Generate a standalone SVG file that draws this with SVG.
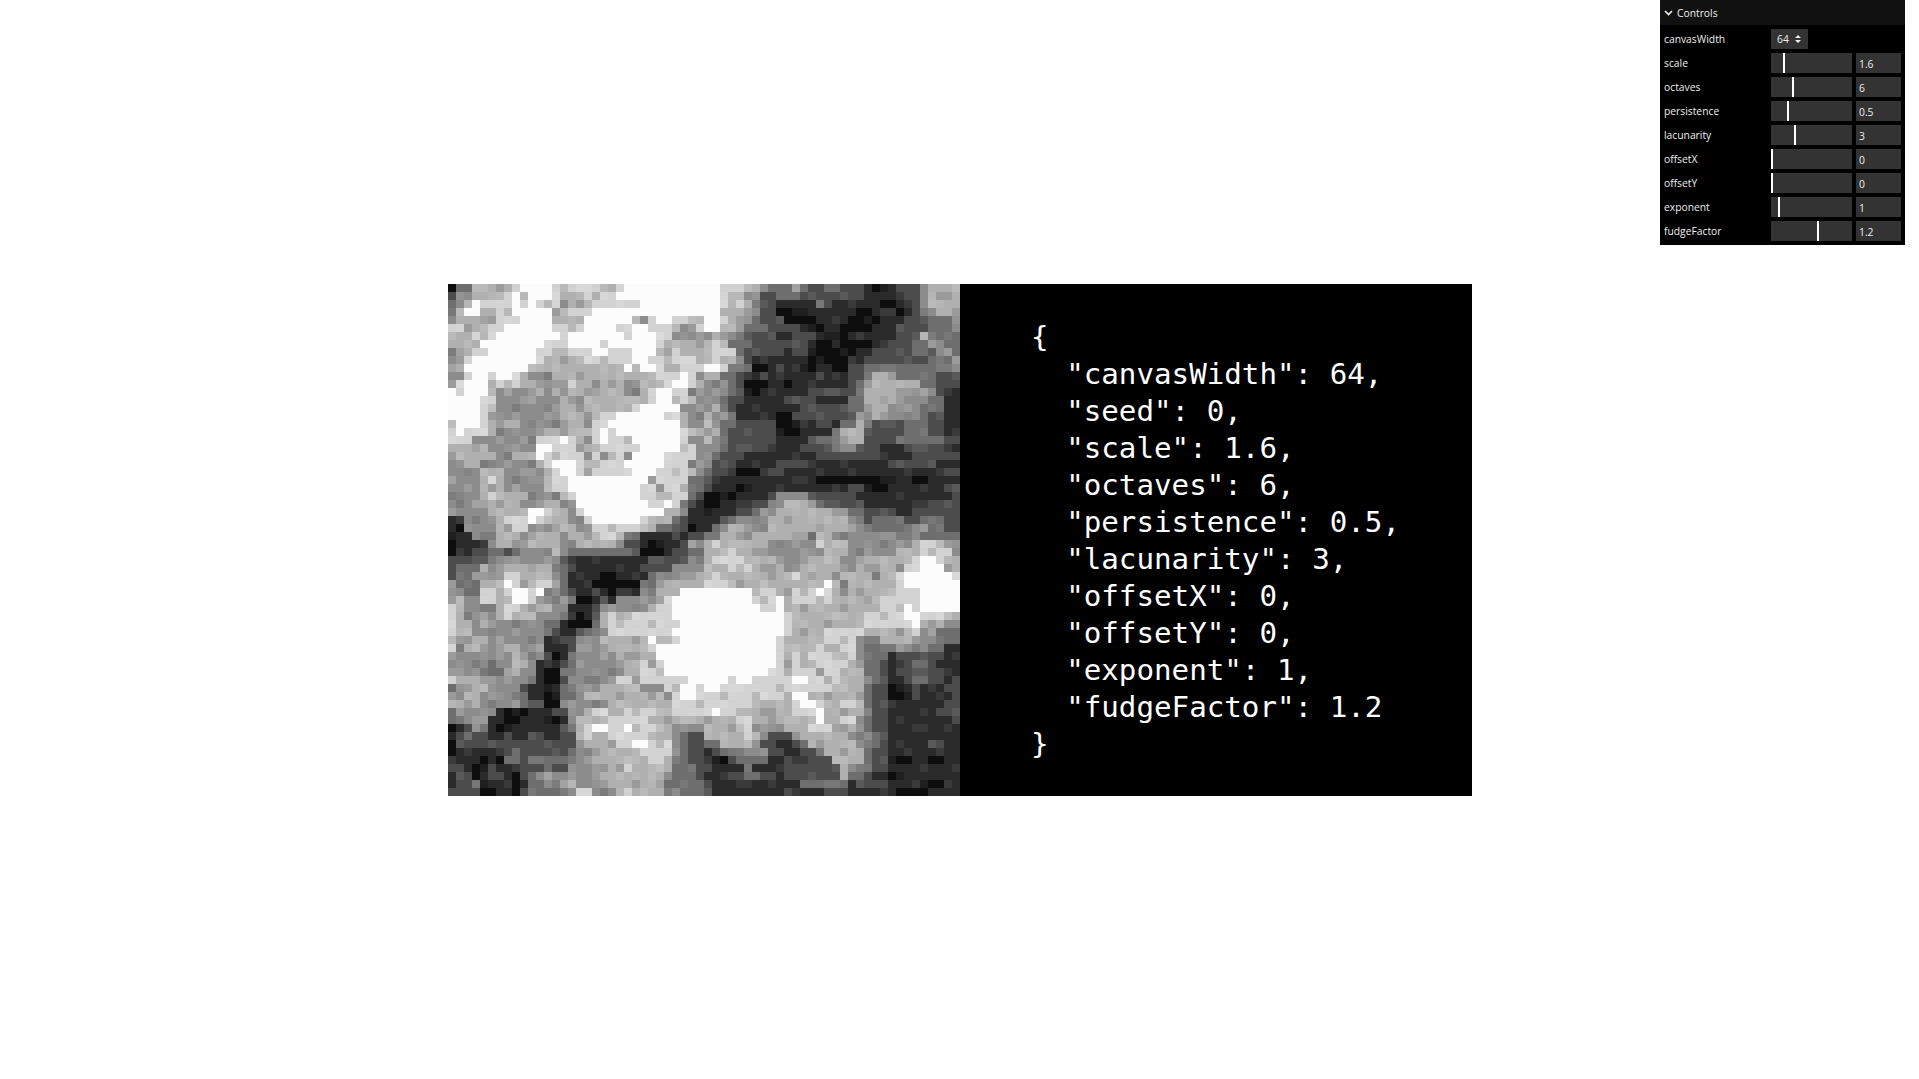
<svg xmlns="http://www.w3.org/2000/svg" width="1919" height="1079" viewBox="0 0 1919 1079">
<defs>
<pattern id="grain" patternUnits="userSpaceOnUse" x="0" y="-.5" width="13" height="9" shape-rendering="crispEdges">
<path fill="#000" fill-opacity=".12" d="M1 0h1v1h-1zM6 0h1v1h-1zM9 1h2v1h-2zM3 2h1v1h-1zM12 2h1v1h-1zM0 3h1v1h-1zM7 3h1v1h-1zM4 4h2v1h-2zM10 4h1v1h-1zM2 5h1v1h-1zM8 6h1v1h-1zM12 6h1v1h-1zM5 7h1v1h-1zM0 8h2v1h-2zM10 8h1v1h-1z"/>
<path fill="#fff" fill-opacity=".13" d="M3 0h2v1h-2zM11 0h1v1h-1zM0 1h1v1h-1zM6 1h1v1h-1zM8 2h1v1h-1zM1 3h1v1h-1zM11 3h1v1h-1zM7 4h1v1h-1zM4 5h1v1h-1zM9 5h2v1h-2zM0 6h1v1h-1zM5 6h1v1h-1zM2 7h1v1h-1zM8 7h1v1h-1zM12 7h1v1h-1zM6 8h1v1h-1z"/>
</pattern>
<pattern id="grain2" patternUnits="userSpaceOnUse" x="2" y="1.500" width="11" height="7" shape-rendering="crispEdges">
<path fill="#fff" fill-opacity=".07" d="M0 0h1v1h-1zM4 0h1v1h-1zM8 1h2v1h-2zM2 2h1v1h-1zM6 2h1v1h-1zM10 3h1v1h-1zM1 4h2v1h-2zM5 4h1v1h-1zM8 5h1v1h-1zM3 6h1v1h-1zM10 6h1v1h-1z"/>
</pattern>
</defs>
<style>
.p{fill:none;stroke-width:1;shape-rendering:crispEdges}
.json{font-family:"DejaVu Sans Mono","Liberation Mono",monospace;font-size:29.2px;fill:#fff;white-space:pre}
.l{font-family:"Open Sans","Noto Sans",sans-serif;font-size:10.3px;fill:#eee}
.v{font-family:"Open Sans","Noto Sans",sans-serif;font-size:10.3px;fill:#eee}
.b{fill:#333}
.h{fill:#fff}
</style>
<rect width="1919" height="1079" fill="#fff"/>
<g id="noise-canvas" transform="translate(448 288) scale(8)">
<rect x="0" y="-.5" width="64" height="64" fill="#8c8c8c" shape-rendering="crispEdges"/>
<path class="p" stroke="#b0b0b0" d="M3 0H8M20 0H21M36 0H39M60 0H64M3 1H7M14 1H19M60 1H64M2 2H3M15 2H18M35 2H38M60 2H64M1 3H2M4 3H6M13 3H15M34 3H37M61 3H63M1 4H6M13 4H17M32 4H37M2 5H5M32 5H36M0 6H6M33 6H35M59 6H60M0 7H4M26 7H37M1 8H5M27 8H36M62 8H63M1 9H3M12 9H17M26 9H36M1 10H2M10 10H22M27 10H35M53 10H56M59 10H60M2 11H3M9 11H10M13 11H29M32 11H34M53 11H57M0 12H1M5 12H11M13 12H14M15 12H18M19 12H22M24 12H32M52 12H59M10 13H12M13 13H14M15 13H22M24 13H29M31 13H32M51 13H58M5 14H6M14 14H16M17 14H25M28 14H31M52 14H56M4 15H6M14 15H16M17 15H23M28 15H29M33 15H34M53 15H55M4 16H6M14 16H17M29 16H30M32 16H33M53 16H54M4 17H6M7 17H9M14 17H17M29 17H30M32 17H33M50 17H52M0 18H1M5 18H6M12 18H18M29 18H34M49 18H52M0 19H3M9 19H10M12 19H17M32 19H33M49 19H52M0 20H5M11 20H31M0 21H6M8 21H11M2 22H4M11 22H12M31 22H32M4 23H7M12 23H13M29 23H31M4 24H7M12 24H13M24 24H29M4 25H7M12 25H14M29 25H31M4 26H10M5 27H9M12 27H14M29 27H30M42 27H46M5 28H10M12 28H15M27 28H29M41 28H50M6 29H9M13 29H15M25 29H28M40 29H50M59 29H60M6 30H8M13 30H16M24 30H26M35 30H37M40 30H50M59 30H60M6 31H9M10 31H14M15 31H22M34 31H37M38 31H48M60 31H61M6 32H8M10 32H14M16 32H21M32 32H40M47 32H50M58 32H62M13 33H14M32 33H39M47 33H50M56 33H63M32 34H41M44 34H49M52 34H64M3 35H5M7 35H13M32 35H42M44 35H50M51 35H56M57 35H64M6 36H13M31 36H48M49 36H53M54 36H64M4 37H13M27 37H47M48 37H49M50 37H64M4 38H12M26 38H49M50 38H64M0 39H2M4 39H11M26 39H64M0 40H2M6 40H13M25 40H64M0 41H2M6 41H11M19 41H64M0 42H3M4 42H5M19 42H62M0 43H3M20 43H56M0 44H2M3 44H5M19 44H50M54 44H58M0 45H1M2 45H4M6 45H9M19 45H51M8 46H10M21 46H51M8 47H10M16 47H17M22 47H52M0 48H1M7 48H9M22 48H52M0 49H6M21 49H52M2 50H5M19 50H24M27 50H52M2 51H4M17 51H27M28 51H52M0 52H2M3 52H4M20 52H52M1 53H2M17 53H31M32 53H52M16 54H51M16 55H28M32 55H37M42 55H51M16 56H28M32 56H38M44 56H50M17 57H28M34 57H38M45 57H51M18 58H28M46 58H52M18 59H28M47 59H52M20 60H28M49 60H50M18 61H27M47 61H50M14 62H16M20 62H28M16 63H18M21 63H27"/>
<path class="p" stroke="#d2d2d2" d="M8 0H20M21 0H37M7 1H14M17 1H18M19 1H37M3 2H14M18 2H35M36 2H37M2 3H4M6 3H13M15 3H34M6 4H13M17 4H24M25 4H35M0 5H2M5 5H29M31 5H34M3 6H4M5 6H28M4 7H27M33 7H34M3 8H27M28 8H29M33 8H36M2 9H12M17 9H31M32 9H34M2 10H11M22 10H27M29 10H35M2 11H9M25 11H31M1 12H5M6 12H9M15 12H16M26 12H31M0 13H6M25 13H30M0 14H6M25 14H30M0 15H5M21 15H22M23 15H29M0 16H5M18 16H29M0 17H5M18 17H29M0 18H5M18 18H30M0 19H3M11 19H16M18 19H30M11 20H16M19 20H31M11 21H17M18 21H19M20 21H22M23 21H31M12 22H30M13 23H17M18 23H30M5 24H6M12 24H25M26 24H30M13 25H26M27 25H29M5 26H6M14 26H30M16 27H29M9 28H13M16 28H27M7 29H13M17 29H26M8 30H10M18 30H24M18 31H21M33 32H34M46 32H47M59 32H61M34 33H36M47 33H48M59 33H63M33 34H37M57 34H62M35 35H38M57 35H62M7 36H9M32 36H34M43 36H44M56 36H64M7 37H9M10 37H13M32 37H36M47 37H49M56 37H64M4 38H6M7 38H12M32 38H41M43 38H44M45 38H48M55 38H64M4 39H6M7 39H11M27 39H41M43 39H48M54 39H64M0 40H1M7 40H9M26 40H42M43 40H44M54 40H64M0 41H1M7 41H8M20 41H21M23 41H43M52 41H62M0 42H1M20 42H43M51 42H59M0 43H1M20 43H43M47 43H52M57 43H59M0 44H1M25 44H42M47 44H51M0 45H1M25 45H42M45 45H47M49 45H51M26 46H42M43 46H44M45 46H51M24 47H25M26 47H42M43 47H44M46 47H50M24 48H42M43 48H46M47 48H49M0 49H1M21 49H23M24 49H47M48 49H50M27 50H48M28 51H42M28 52H38M43 52H47M49 52H51M18 53H20M22 53H37M43 53H47M19 54H25M36 54H38M45 54H47M49 54H51M17 55H26M36 55H38M45 55H48M16 56H18M20 56H26M37 56H39M21 57H28M23 58H28M25 59H27M22 60H23M25 60H26M16 63H18M22 63H23"/>
<rect x="0" y="-.5" width="64" height="64" fill="url(#grain)" shape-rendering="crispEdges"/>
<path class="p" stroke="#fcfcfc" d="M9 0H13M22 0H34M8 1H9M10 1H13M21 1H34M3 2H4M8 2H9M10 2H11M24 2H34M2 3H4M8 3H13M18 3H34M9 4H13M17 4H23M26 4H28M32 4H34M7 5H13M17 5H21M23 5H25M32 5H34M6 6H14M15 6H22M23 6H26M4 7H12M15 7H19M20 7H26M5 8H11M18 8H20M23 8H26M3 9H11M23 9H25M2 10H10M22 10H23M24 10H26M32 10H34M3 11H5M6 11H8M29 11H30M2 12H5M28 12H30M0 13H1M2 13H5M26 13H28M0 14H4M26 14H28M0 15H4M24 15H29M0 16H4M21 16H27M1 17H4M20 17H29M1 18H2M19 18H20M21 18H29M14 19H15M19 19H20M23 19H29M11 20H13M24 20H29M11 21H12M23 21H27M13 22H16M22 22H27M14 23H16M23 23H26M15 24H25M15 25H24M16 26H24M16 27H25M27 27H28M10 28H12M17 28H27M10 29H11M18 29H24M59 34H61M59 35H62M57 36H63M7 37H8M47 37H48M57 37H64M8 38H10M11 38H12M29 38H38M46 38H47M59 38H64M8 39H10M28 39H38M41 39H42M59 39H64M28 40H39M41 40H42M57 40H58M59 40H64M28 41H42M57 41H59M29 42H42M58 42H59M28 43H42M25 44H26M29 44H41M26 45H41M26 46H41M27 47H41M27 48H40M32 49H35M36 49H38M43 49H45M30 49H32M29 50H31M32 50H34M29 51H31M43 51H45M44 52H46M33 53H34M46 53H47M46 54H47M18 55H20M22 55H23M23 57H25"/>
<path class="p" stroke="#6e6e6e" d="M0 0H3M40 0H43M44 0H45M46 0H59M0 1H1M39 1H59M0 2H1M39 2H59M0 3H1M39 3H59M38 4H63M37 5H63M36 6H59M61 6H64M35 7H60M62 7H64M36 8H61M63 8H64M37 9H63M37 10H61M34 11H53M56 11H64M35 12H52M59 12H64M35 13H52M61 13H64M34 14H52M60 14H64M34 15H52M59 15H64M35 16H50M59 16H64M34 17H51M53 17H64M34 18H49M52 18H64M34 19H48M52 19H64M34 20H49M52 20H64M33 21H64M33 22H64M32 23H64M30 24H64M30 25H64M30 26H41M45 26H64M29 27H40M46 27H64M30 28H39M50 28H64M28 29H36M52 29H64M26 30H34M53 30H58M60 30H64M22 31H34M45 31H46M59 31H64M0 32H5M22 32H30M0 33H9M15 33H32M0 34H4M14 34H30M0 35H4M14 35H28M0 36H3M14 36H26M1 37H4M14 37H26M2 38H4M14 38H24M15 39H19M15 40H19M14 41H19M12 42H19M12 43H18M12 44H16M12 45H16M12 46H16M61 43H64M5 47H6M11 47H16M4 48H7M11 48H16M10 49H15M0 50H1M9 50H15M9 51H16M9 52H14M0 53H1M7 53H15M0 54H2M5 54H15M0 55H3M4 55H16M0 56H15M0 57H16M0 58H16M0 59H15M0 60H15M0 61H11M0 62H12M0 63H14M29 56H32M29 57H32M29 58H32M29 59H32M28 60H32M28 61H32M27 62H32M29 63H32M61 44H64M52 45H56M60 45H64M52 46H60M61 46H64M52 47H64M52 48H64M53 49H64M52 50H64M52 51H64M52 52H64M53 53H64M52 54H64M52 55H64M40 56H43M53 56H64M32 57H34M40 57H45M53 57H64M32 58H36M40 58H47M52 58H64M32 59H47M52 59H64M32 60H48M52 60H64M32 61H48M50 61H64M32 62H64M32 63H64"/>
<path class="p" stroke="#4c4c4c" d="M0 0H1M45 0H47M49 0H59M0 1H1M39 1H41M44 1H59M39 2H42M43 2H45M47 2H59M39 3H59M39 4H60M40 5H60M37 6H59M38 7H58M37 8H58M60 8H61M37 9H60M38 10H52M36 11H52M61 11H64M36 12H51M61 12H64M36 13H51M61 13H64M35 14H50M62 14H64M35 15H50M62 15H64M36 16H51M60 16H64M36 17H48M53 17H57M60 17H64M35 18H46M52 18H57M60 18H64M35 19H46M52 19H56M62 19H64M35 20H48M51 20H64M34 21H64M33 22H64M33 23H64M32 24H64M32 25H64M31 26H41M45 26H64M30 27H40M47 27H64M30 28H38M52 28H64M29 29H35M52 29H53M57 29H59M62 29H64M28 30H33M62 30H64M0 31H3M24 31H32M0 32H5M22 32H30M0 33H5M7 33H8M23 33H30M0 34H5M14 34H30M0 35H1M15 35H28M0 36H1M15 36H25M15 37H24M15 38H24M16 39H20M15 40H19M15 41H19M14 42H18M13 43H17M12 44H16M12 45H16M12 46H15M11 47H15M11 48H14M11 49H15M9 50H14M10 51H14M10 52H14M8 53H15M5 54H15M0 55H3M5 55H15M0 56H2M3 56H5M6 56H16M0 57H16M0 58H8M9 58H15M0 59H7M9 59H10M0 60H12M13 60H15M0 61H10M0 62H3M4 62H10M0 63H10M30 56H32M30 57H32M30 58H32M30 59H32M31 60H32M31 61H32M62 45H64M55 46H64M54 47H58M60 47H64M54 48H64M54 49H58M60 49H64M53 50H64M53 51H64M53 52H64M53 53H64M53 54H64M53 55H64M40 56H43M54 56H64M39 57H44M54 57H64M32 58H34M40 58H46M53 58H64M32 59H36M40 59H48M53 59H64M32 60H37M38 60H49M53 60H64M32 61H37M39 61H49M52 61H64M32 62H44M50 62H64M32 63H64"/>
<path class="p" stroke="#2b2b2b" d="M0 0H1M52 0H56M52 1H57M41 2H46M48 2H58M41 3H58M42 4H57M44 5H56M41 6H43M46 6H56M45 7H55M42 8H43M45 8H53M38 9H52M38 10H41M42 10H50M37 11H39M40 11H46M47 11H50M37 12H50M37 13H45M62 13H64M37 14H42M46 14H50M62 14H64M36 15H44M62 15H64M36 16H42M62 16H64M41 17H46M48 17H49M62 17H64M41 18H48M62 18H64M41 19H45M40 20H44M54 20H57M62 20H64M37 21H46M54 21H58M36 22H41M45 22H55M61 22H64M35 23H40M42 23H62M33 24H64M33 25H50M53 25H62M32 26H40M51 26H63M31 27H38M52 27H60M30 28H36M56 28H58M0 29H2M30 29H34M0 30H2M30 30H33M0 31H3M24 31H28M29 31H30M0 32H5M24 32H29M0 33H3M24 33H28M15 34H25M16 35H24M15 36H25M15 37H24M16 38H18M19 38H24M16 39H19M20 39H21M15 40H18M15 41H18M14 42H17M14 43H16M12 44H14M12 45H15M13 46H15M11 47H14M11 48H14M11 49H14M10 50H14M10 51H14M12 52H14M6 53H13M5 54H15M0 55H2M5 55H14M0 56H1M5 56H7M8 56H10M12 56H14M0 57H1M0 58H7M0 59H7M2 60H5M6 60H9M0 61H1M3 61H5M7 61H9M0 62H1M4 62H10M4 63H9M62 45H64M55 46H56M62 46H64M55 47H57M61 47H64M55 48H56M62 48H64M55 49H57M62 49H63M55 50H58M59 50H62M55 51H58M59 51H63M55 52H62M55 53H61M55 54H63M55 55H64M55 56H64M41 57H43M55 57H60M62 57H64M32 58H33M42 58H44M55 58H64M32 59H35M40 59H42M43 59H45M55 59H64M33 60H37M38 60H42M55 60H64M32 61H35M41 61H42M53 61H64M33 62H44M50 62H51M55 62H64M33 63H42M43 63H47M50 63H64"/>
<path class="p" stroke="#0e0e0e" d="M0 0H1M53 0H55M54 2H56M41 3H45M51 3H53M56 3H57M42 4H46M50 4H54M45 5H47M49 5H53M47 6H50M46 7H48M49 7H53M45 8H51M45 9H50M38 10H40M44 10H46M48 10H50M37 12H40M42 12H43M37 13H39M41 16H43M41 17H44M41 18H44M36 23H39M46 24H56M58 24H60M36 25H38M52 25H55M32 26H36M32 27H34M32 28H33M1 30H2M30 30H31M0 31H1M0 32H1M25 32H27M0 33H1M24 33H27M19 36H21M18 37H24M20 38H21M16 39H18M16 41H17M15 42H18M13 46H14M12 48H14M12 49H14M12 50H13M12 51H14M12 52H14M7 53H10M7 54H9M12 54H14M0 55H1M6 55H8M0 57H1M0 58H1M4 59H5M6 59H7M3 60H5M3 61H4M8 61H9M4 62H5M8 62H9M4 63H6M8 63H9M55 50H57M55 51H58M55 59H58M60 59H62M55 61H57M59 62H62M33 59H35M56 63H60"/>
<rect x="0" y="-.5" width="64" height="64" fill="url(#grain2)" shape-rendering="crispEdges"/>
</g>
<g id="json-panel">
<rect x="960" y="284" width="512" height="512" fill="#000"/>
<text class="json" x="1031" y="347">{</text>
<text class="json" x="1031" y="384">  "canvasWidth": 64,</text>
<text class="json" x="1031" y="421">  "seed": 0,</text>
<text class="json" x="1031" y="458">  "scale": 1.6,</text>
<text class="json" x="1031" y="495">  "octaves": 6,</text>
<text class="json" x="1031" y="532">  "persistence": 0.5,</text>
<text class="json" x="1031" y="569">  "lacunarity": 3,</text>
<text class="json" x="1031" y="606">  "offsetX": 0,</text>
<text class="json" x="1031" y="643">  "offsetY": 0,</text>
<text class="json" x="1031" y="680">  "exponent": 1,</text>
<text class="json" x="1031" y="717">  "fudgeFactor": 1.2</text>
<text class="json" x="1031" y="754">}</text>
</g>
<g id="controls">
<rect x="1660" y="0" width="245" height="245" fill="#000"/>
<rect x="1660" y="0" width="245" height="25" fill="#111"/>
<path d="M1665 11l3.500 3.500 3.500-3.500" fill="none" stroke="#eee" stroke-width="1.600"/>
<text class="l" x="1677" y="17">Controls</text>
<text class="l" x="1664" y="43">canvasWidth</text>
<rect class="b" x="1771" y="29" width="37" height="20"/>
<text class="v" x="1777" y="43">64</text>
<path d="M1795 38h6l-3-3zM1795 40h6l-3 3z" fill="#eee"/>
<text class="l" x="1664" y="67">scale</text>
<rect class="b" x="1771" y="53" width="81" height="20"/><rect class="b" x="1856" y="53" width="45" height="20"/>
<rect class="h" x="1783" y="53" width="2" height="20"/><text class="v" x="1859" y="68">1.6</text>
<text class="l" x="1664" y="91">octaves</text>
<rect class="b" x="1771" y="77" width="81" height="20"/><rect class="b" x="1856" y="77" width="45" height="20"/>
<rect class="h" x="1792" y="77" width="2" height="20"/><text class="v" x="1859" y="92">6</text>
<text class="l" x="1664" y="115">persistence</text>
<rect class="b" x="1771" y="101" width="81" height="20"/><rect class="b" x="1856" y="101" width="45" height="20"/>
<rect class="h" x="1787" y="101" width="2" height="20"/><text class="v" x="1859" y="116">0.5</text>
<text class="l" x="1664" y="139">lacunarity</text>
<rect class="b" x="1771" y="125" width="81" height="20"/><rect class="b" x="1856" y="125" width="45" height="20"/>
<rect class="h" x="1794" y="125" width="2" height="20"/><text class="v" x="1859" y="140">3</text>
<text class="l" x="1664" y="163">offsetX</text>
<rect class="b" x="1771" y="149" width="81" height="20"/><rect class="b" x="1856" y="149" width="45" height="20"/>
<rect class="h" x="1771" y="149" width="2" height="20"/><text class="v" x="1859" y="164">0</text>
<text class="l" x="1664" y="187">offsetY</text>
<rect class="b" x="1771" y="173" width="81" height="20"/><rect class="b" x="1856" y="173" width="45" height="20"/>
<rect class="h" x="1771" y="173" width="2" height="20"/><text class="v" x="1859" y="188">0</text>
<text class="l" x="1664" y="211">exponent</text>
<rect class="b" x="1771" y="197" width="81" height="20"/><rect class="b" x="1856" y="197" width="45" height="20"/>
<rect class="h" x="1778" y="197" width="2" height="20"/><text class="v" x="1859" y="212">1</text>
<text class="l" x="1664" y="235">fudgeFactor</text>
<rect class="b" x="1771" y="221" width="81" height="20"/><rect class="b" x="1856" y="221" width="45" height="20"/>
<rect class="h" x="1817" y="221" width="2" height="20"/><text class="v" x="1859" y="236">1.2</text>
</g>
</svg>
